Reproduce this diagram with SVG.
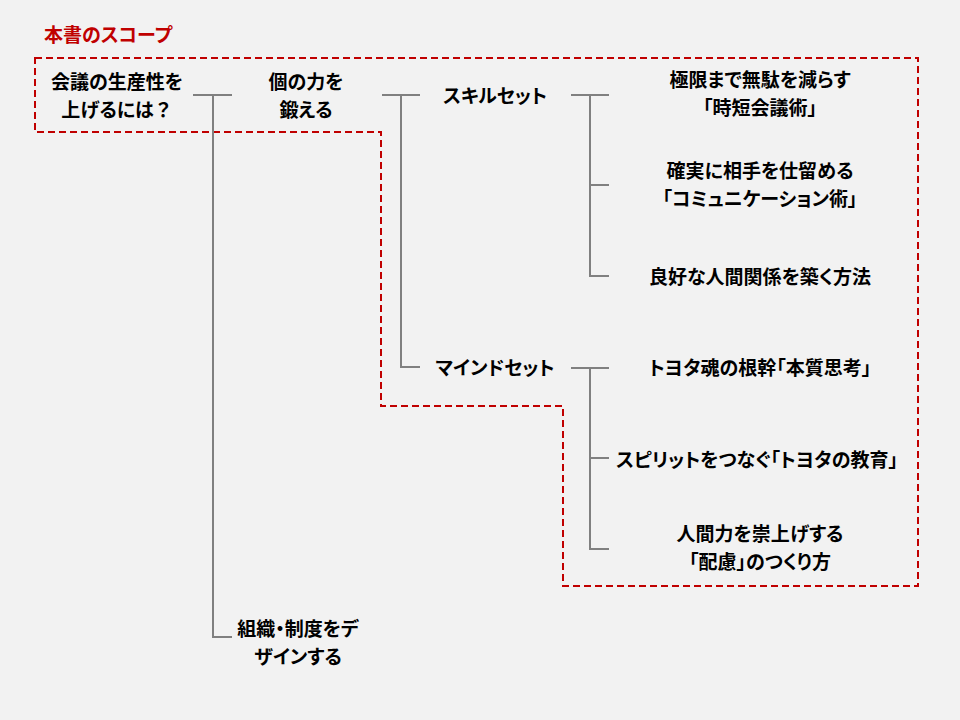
<svg xmlns="http://www.w3.org/2000/svg" width="960" height="720" viewBox="0 0 960 720">
<style>
.t{font-family:"Noto Sans CJK JP","Noto Sans CJK SC",sans-serif;font-weight:bold;font-size:19px;fill:#000;text-anchor:middle;font-feature-settings:"palt"}
.h{font-family:"Noto Sans CJK JP","Noto Sans CJK SC",sans-serif;font-weight:bold;font-size:19px;fill:#c00000;font-feature-settings:"palt"}
.n{font-feature-settings:normal}
.c{fill:none;stroke:#808080;stroke-width:2}
.scope{fill:none;stroke:#c00000;stroke-width:2;stroke-dasharray:7 4}
</style>
<rect width="960" height="720" fill="#f2f2f2"/>
<g id="scope">
<text class="h" x="44" y="42">本書のスコープ</text>
<path class="scope" d="M35 58H918V586H563V406H381V132H35Z"/>
</g>
<g id="connectors">
<path class="c" d="M193 95H232M213 95V637H232"/>
<path class="c" d="M382 95H420M401 95V367H420"/>
<path class="c" d="M571 95H609M590 95V276H609M590 185H609"/>
<path class="c" d="M571 368H609M590 368V549H609M590 458H609"/>
</g>
<g id="root"><text class="t" x="117" y="89">会議の生産性を</text><text class="t" x="117" y="117">上げるには<tspan class="n">？</tspan></text></g>
<g id="individual"><text class="t" x="306" y="89">個の力を</text><text class="t" x="306" y="117">鍛える</text></g>
<g id="skillset"><text class="t" x="495" y="103">スキルセット</text></g>
<g id="skill1"><text class="t" x="760" y="87">極限まで無駄を減らす</text><text class="t" x="760" y="115">「時短会議術」</text></g>
<g id="skill2"><text class="t" x="760" y="178">確実に相手を仕留める</text><text class="t" x="760" y="206">「コミュニケーション術」</text></g>
<g id="skill3"><text class="t" x="760" y="284">良好な人間関係を築く方法</text></g>
<g id="mindset"><text class="t" x="495" y="375">マインドセット</text></g>
<g id="mind1"><text class="t" x="760" y="375">トヨタ魂の根幹「本質思考」</text></g>
<g id="mind2"><text class="t" x="757" y="467">スピリットをつなぐ「トヨタの教育」</text></g>
<g id="mind3"><text class="t" x="760" y="541">人間力を崇上げする</text><text class="t" x="760" y="569">「配慮」のつくり方</text></g>
<g id="org"><text class="t" x="298" y="636">組織・制度をデ</text><text class="t" x="298" y="664">ザインする</text></g>
</svg>
